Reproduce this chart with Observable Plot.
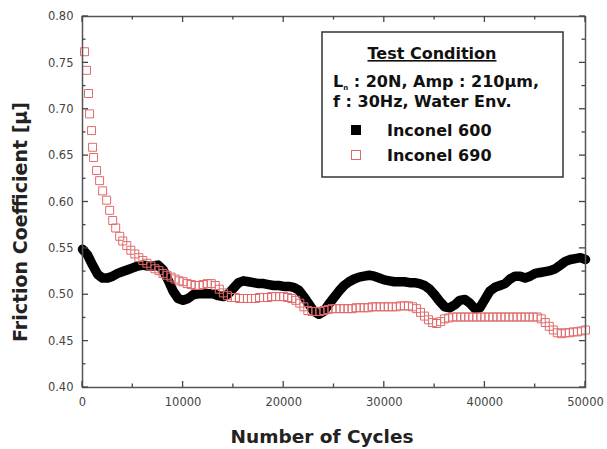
<!DOCTYPE html>
<html>
<head>
<meta charset="utf-8">
<script src="https://cdn.jsdelivr.net/npm/d3@7"></script>
<script src="https://cdn.jsdelivr.net/npm/@observablehq/plot@0.6"></script>
<style>
  html, body { margin: 0; padding: 0; background: #fff; }
  #chart svg { display: block; }
</style>
</head>
<body>
<div id="chart"></div>
<script>
// Inconel 600 (black, dense filled markers)
const cycles600 = [0,500,1000,1500,2000,2500,3000,3500,4000,4500,5000,5500,6000,6500,7000,7500,8000,8500,9000,9500,10000,10500,11000,11500,12000,12500,13000,13500,14000,14500,15000,15500,16000,16500,17000,17500,18000,18500,19000,19500,20000,20500,21000,21500,22000,22500,23000,23500,24000,24500,25000,25500,26000,26500,27000,27500,28000,28500,29000,29500,30000,30500,31000,31500,32000,32500,33000,33500,34000,34500,35000,35500,36000,36500,37000,37500,38000,38500,39000,39500,40000,40500,41000,41500,42000,42500,43000,43500,44000,44500,45000,45500,46000,46500,47000,47500,48000,48500,49000,49500,50000];
const mu600 = [0.549,0.543,0.532,0.522,0.518,0.518,0.520,0.523,0.525,0.527,0.529,0.531,0.532,0.531,0.531,0.532,0.527,0.516,0.504,0.496,0.494,0.496,0.500,0.501,0.501,0.501,0.501,0.499,0.498,0.501,0.507,0.513,0.515,0.514,0.513,0.512,0.512,0.511,0.510,0.510,0.509,0.509,0.508,0.505,0.498,0.490,0.482,0.479,0.482,0.490,0.497,0.504,0.510,0.514,0.517,0.519,0.520,0.521,0.520,0.518,0.516,0.515,0.514,0.514,0.514,0.513,0.513,0.512,0.510,0.506,0.500,0.493,0.487,0.486,0.489,0.494,0.495,0.491,0.485,0.486,0.495,0.504,0.508,0.510,0.512,0.517,0.520,0.520,0.518,0.520,0.523,0.524,0.525,0.526,0.528,0.532,0.536,0.538,0.539,0.540,0.538];

// Inconel 690 (red, open squares)
const cycles690 = [200,400,600,700,900,1000,1100,1400,1700,2000,2400,2700,3000,3300,3700,4000,4400,4800,5200,5600,6000,6400,6800,7200,7600,8000,8400,8800,9200,9600,10000,10400,10800,11200,11600,12000,12400,12800,13200,13600,14000,14400,14800,15200,15600,16000,16400,16800,17200,17600,18000,18400,18800,19200,19600,20000,20400,20800,21200,21600,22000,22400,22800,23200,23600,24000,24400,24800,25200,25600,26000,26400,26800,27200,27600,28000,28400,28800,29200,29600,30000,30400,30800,31200,31600,32000,32400,32800,33200,33600,34000,34400,34800,35200,35600,36000,36400,36800,37200,37600,38000,38400,38800,39200,39600,40000,40400,40800,41200,41600,42000,42400,42800,43200,43600,44000,44400,44800,45200,45600,46000,46400,46800,47200,47600,48000,48400,48800,49200,49600,50000];
const mu690 = [0.762,0.742,0.717,0.695,0.677,0.659,0.648,0.634,0.623,0.612,0.602,0.591,0.580,0.572,0.563,0.558,0.553,0.548,0.544,0.540,0.537,0.534,0.531,0.528,0.526,0.523,0.521,0.519,0.517,0.515,0.514,0.512,0.511,0.510,0.510,0.511,0.512,0.512,0.510,0.506,0.502,0.499,0.497,0.497,0.496,0.496,0.496,0.496,0.496,0.497,0.497,0.497,0.498,0.498,0.498,0.498,0.497,0.496,0.494,0.491,0.487,0.483,0.482,0.482,0.482,0.483,0.484,0.485,0.485,0.485,0.485,0.485,0.485,0.486,0.486,0.486,0.486,0.487,0.487,0.487,0.487,0.487,0.487,0.487,0.488,0.488,0.488,0.487,0.485,0.481,0.477,0.473,0.470,0.469,0.471,0.474,0.475,0.476,0.476,0.476,0.476,0.476,0.476,0.476,0.476,0.476,0.476,0.476,0.476,0.476,0.476,0.476,0.476,0.476,0.476,0.476,0.476,0.476,0.476,0.474,0.470,0.466,0.462,0.459,0.458,0.459,0.459,0.460,0.460,0.461,0.462];

const xTicks = [0,10000,20000,30000,40000,50000];
const xMinor = [5000,15000,25000,35000,45000];
const yTicks = [0.40,0.45,0.50,0.55,0.60,0.65,0.70,0.75,0.80];
const yMinor = [0.425,0.475,0.525,0.575,0.625,0.675,0.725,0.775];

const xLabel = "Number of Cycles";
const yLabel = "Friction Coefficient [\u03bc]";
const legendTitle = "Test Condition";
const legendLine1 = ["L", "n", " : 20N, Amp : 210\u03bcm,"];
const legendLine2 = "f : 30Hz, Water Env.";
const seriesNames = ["Inconel 600", "Inconel 690"];

const d600 = cycles600.map((c, i) => ({x: c, y: mu600[i]}));
const d690 = cycles690.map((c, i) => ({x: c, y: mu690[i]}));

const W = 607, H = 449;
const redColor = "#e06a6a";
const font = "'DejaVu Sans', sans-serif";

const plot = Plot.plot({
  width: W,
  height: H,
  marginLeft: 82,
  marginRight: 22,
  marginTop: 16,
  marginBottom: 62,
  style: {fontFamily: font, background: "#fff"},
  x: {domain: [0, 50000], ticks: xTicks, tickFormat: d => String(d), label: null},
  y: {domain: [0.40, 0.80], ticks: yTicks, tickFormat: d3.format(".2f"), label: null},
  marks: [
    Plot.axisX(xTicks, {anchor: "bottom", tickSize: 0, tickPadding: 10, fontSize: 11.5, fill: "#444", tickFormat: d => String(d)}),
    Plot.axisY(yTicks, {anchor: "left", tickSize: 0, tickPadding: 9, fontSize: 11.5, fill: "#444", tickFormat: d3.format(".2f")}),
    Plot.line(d600, {x: "x", y: "y", stroke: "#000", strokeWidth: 9.5, strokeLinejoin: "round", strokeLinecap: "round"}),
    Plot.dot(d690, {x: "x", y: "y", symbol: "square", r: 4.5, stroke: redColor, strokeWidth: 1, fill: "none"}),
    Plot.frame({stroke: "#555", strokeWidth: 1.5})
  ]
});

document.getElementById("chart").appendChild(plot);

const svg = d3.select(plot);
const sx = plot.scale("x"), sy = plot.scale("y");
const x0 = sx.apply(0), x1 = sx.apply(50000), y0 = sy.apply(0.40), y1 = sy.apply(0.80);
const tg = svg.append("g").attr("fill", "none");
const tick = (xa, ya, xb, yb) => tg.append("line")
  .attr("x1", xa).attr("y1", ya).attr("x2", xb).attr("y2", yb)
  .attr("stroke", "#444").attr("stroke-width", 1.3);
const addX = (v, len) => {
  const px = sx.apply(v);
  tick(px, y0, px, y0 - len);
  tick(px, y1, px, y1 + len);
};
const addY = (v, len) => {
  const py = sy.apply(v);
  tick(x0, py, x0 + len, py);
  tick(x1, py, x1 - len, py);
};
xTicks.forEach(v => addX(v, 6));
xMinor.forEach(v => addX(v, 3.5));
yTicks.forEach(v => addY(v, 6));
yMinor.forEach(v => addY(v, 3.5));

// axis titles
svg.append("text").attr("x", 322).attr("y", 443)
  .attr("text-anchor", "middle").attr("font-family", font).attr("font-weight", "bold")
  .attr("font-size", 18.5).attr("fill", "#222").text(xLabel);
svg.append("text").attr("transform", `translate(27,222) rotate(-90)`)
  .attr("text-anchor", "middle").attr("font-family", font).attr("font-weight", "bold")
  .attr("font-size", 19).attr("fill", "#222").text(yLabel);

// legend box
const lg = svg.append("g").attr("font-family", font).attr("font-weight", "bold")
  .attr("fill", "#111").attr("text-anchor", "start");
lg.append("rect").attr("x", 322).attr("y", 32).attr("width", 241).attr("height", 145)
  .attr("fill", "#fff").attr("stroke", "#333").attr("stroke-width", 1.5);
lg.append("text").attr("x", 432).attr("y", 59).attr("text-anchor", "middle")
  .attr("font-size", 16).attr("text-decoration", "underline").text(legendTitle);
const t1 = lg.append("text").attr("x", 333).attr("y", 87).attr("font-size", 16);
t1.append("tspan").text(legendLine1[0]);
t1.append("tspan").attr("font-size", 7).attr("dy", 3).text(legendLine1[1]);
t1.append("tspan").attr("dy", -3).text(legendLine1[2]);
lg.append("text").attr("x", 333).attr("y", 107).attr("font-size", 16).text(legendLine2);
lg.append("rect").attr("x", 351).attr("y", 125).attr("width", 10).attr("height", 10).attr("fill", "#000");
lg.append("rect").attr("x", 351.5).attr("y", 150.5).attr("width", 9).attr("height", 9).attr("fill", "none").attr("stroke", redColor);
lg.append("text").attr("x", 387).attr("y", 136).attr("font-size", 16).text(seriesNames[0]);
lg.append("text").attr("x", 387).attr("y", 161).attr("font-size", 16).text(seriesNames[1]);
</script>
</body>
</html>
